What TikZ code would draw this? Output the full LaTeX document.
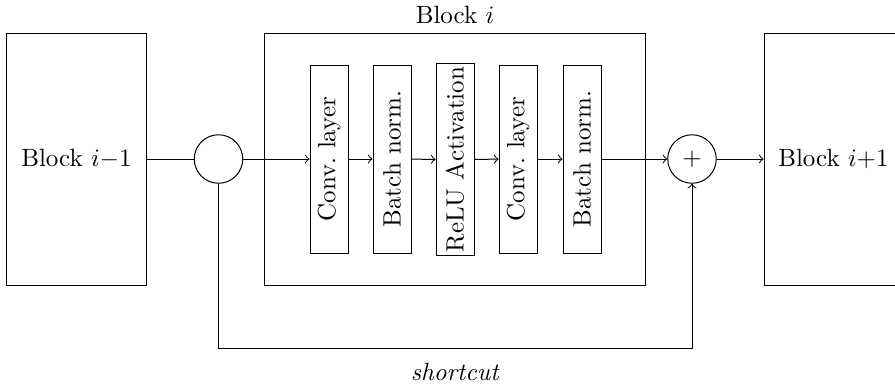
\documentclass[tikz,border=0pt]{standalone}
\usetikzlibrary{arrows}
\begin{document}
\begin{tikzpicture}[x=0.4pt,y=-0.4pt,
  line width=0.4pt,
  blockbox/.style={draw, minimum width=55.6pt, minimum height=100.8pt, inner sep=0pt},
  layerbox/.style={draw, rotate=90, minimum width=75.2pt, minimum height=15.2pt, inner sep=1.2pt},
  junction/.style={draw, circle, minimum size=19.4pt, inner sep=0pt},
  flow/.style={->, >=to}]
  % page frame
  \useasboundingbox (0,0) rectangle (895,383);
  \clip (0,0) rectangle (895,383);

  % neighbouring blocks
  \node[blockbox] (prev) at (76.5,159) {Block $i{-}1$};
  \node[blockbox] (next) at (833.5,159) {Block $i{+}1$};

  % residual block frame
  \node[draw, minimum width=152pt, minimum height=100.8pt, inner sep=0pt] (blk) at (455,159) {};
  \node[anchor=base] (blklabel) at (455,23) {Block $i$};

  % split and sum points
  \node[junction] (split) at (218.5,159) {};
  \node[junction] (sum) at (692,159) {$+$};

  % layers inside the block
  \node[layerbox] (l1) at (329,159) {Conv.\ layer};
  \node[layerbox] (l2) at (392,159) {Batch norm.};
  \node[layerbox] (l3) at (455,159.5) {ReLU Activation};
  \node[layerbox] (l4) at (518,159) {Conv.\ layer};
  \node[layerbox] (l5) at (582,159) {Batch norm.};

  % main path
  \draw (prev) -- (split);
  \draw[flow] (split) -- (l1);
  \draw[flow] (l1) -- (l2);
  \draw[flow] (l2) -- (l3);
  \draw[flow] (l3) -- (l4);
  \draw[flow] (l4) -- (l5);
  \draw[flow] (l5) -- (sum);
  \draw[flow] (sum) -- (next);

  % skip connection
  \coordinate (sc1) at (218.5,348);
  \coordinate (sc2) at (692,348);
  \draw[flow] (split) -- (sc1) -- node[below=2.5pt] {\textit{shortcut}} (sc2) -- (sum);
\end{tikzpicture}
\end{document}
